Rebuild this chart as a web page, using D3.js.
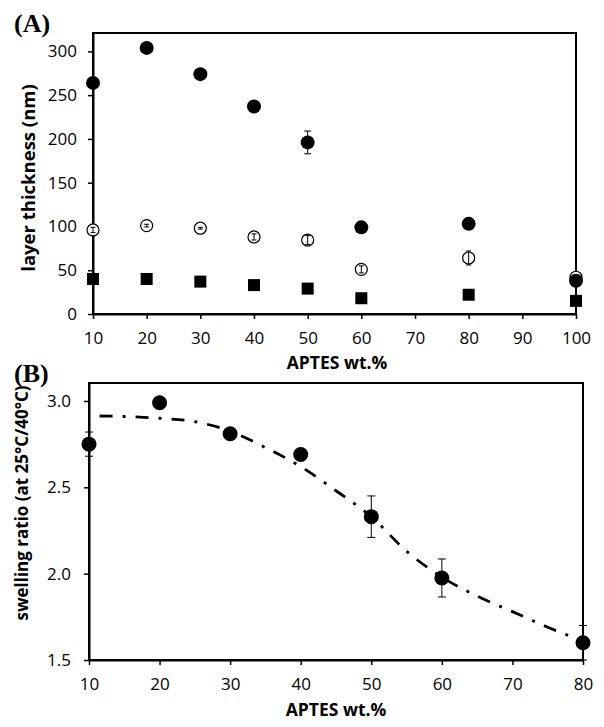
<!DOCTYPE html>
<html><head><meta charset="utf-8">
<script src="https://cdn.jsdelivr.net/npm/d3@7"></script>
<style>body{margin:0;background:#fff}svg{display:block}</style>
</head><body>
<script>
// Panel A data
const xA = [10, 20, 30, 40, 50, 60, 80, 100];
const filledA = [264, 304, 274, 237, 196, 99, 103, 38];
const filledAErr = [0, 0, 0, 0, 13, 0, 0, 0];
const openA = [96, 101, 98, 88, 84.5, 51, 64, 42];
const openAErr = [3, 1.5, 1, 3.5, 5, 4, 8, 2];
const squareA = [40, 40, 37, 33, 29, 18, 22, 15];
const xTicksA = [10, 20, 30, 40, 50, 60, 70, 80, 90, 100];
const yTicksA = [0, 50, 100, 150, 200, 250, 300];
// Panel B data
const xB = [10, 20, 30, 40, 50, 60, 80];
const swell = [2.75, 2.99, 2.81, 2.69, 2.33, 1.975, 1.60];
const swellErr = [0.07, 0, 0, 0, 0.12, 0.11, 0.1];
const fitX = [11.5, 15, 20, 25, 30, 35, 40, 45, 50, 55, 60, 65, 70, 75, 80];
const fitY = [2.913, 2.91, 2.90, 2.88, 2.825, 2.73, 2.62, 2.48, 2.33, 2.13, 1.98, 1.87, 1.78, 1.69, 1.61];
const xTicksB = [10, 20, 30, 40, 50, 60, 70, 80];
const yTicksB = [1.5, 2.0, 2.5, 3.0];

const W = 604, H = 727;
const svg = d3.select("body").append("svg").attr("width", W).attr("height", H);
const tickFont = "'Open Sans', sans-serif";

function frame(g, x, y, xt, yt, yfmt, xpad, ypad) {
  const [x0, x1] = x.range(), [y0, y1] = y.range();
  g.append("rect").attr("x", x0).attr("y", y1).attr("width", x1 - x0).attr("height", y0 - y1)
    .attr("fill", "none").attr("stroke", "#000").attr("stroke-width", 2);
  const ax = g.append("g").attr("transform", `translate(0,${y0})`)
    .call(d3.axisBottom(x).tickValues(xt).tickSize(5).tickSizeOuter(0).tickPadding(xpad));
  const ay = g.append("g").attr("transform", `translate(${x0},0)`)
    .call(d3.axisLeft(y).tickValues(yt).tickSize(5).tickSizeOuter(0).tickPadding(ypad).tickFormat(yfmt));
  [ax, ay].forEach(a => {
    a.select(".domain").attr("stroke-width", 2);
    a.selectAll(".tick line").attr("stroke-width", 1.5);
    a.selectAll("text").attr("font-family", tickFont).attr("font-size", 17).attr("fill", "#000");
  });
}

function errBars(g, xs, ys, es, x, y, cap) {
  xs.forEach((d, i) => {
    if (!es[i]) return;
    const cx = x(d), t = y(ys[i] + es[i]), b = y(ys[i] - es[i]);
    g.append("line").attr("x1", cx).attr("x2", cx).attr("y1", t).attr("y2", b).attr("stroke", "#000").attr("stroke-width", 1);
    [t, b].forEach(v => g.append("line").attr("x1", cx - cap).attr("x2", cx + cap).attr("y1", v).attr("y2", v).attr("stroke", "#000").attr("stroke-width", 1));
  });
}

// ---------- Panel A ----------
const xa = d3.scaleLinear().domain([10, 100]).range([93, 576]);
const ya = d3.scaleLinear().domain([0, 321]).range([314, 33]);
const gA = svg.append("g");
frame(gA, xa, ya, xTicksA, yTicksA, d3.format("d"), 13, 11);

gA.selectAll(".sq").data(xA).join("rect")
  .attr("x", d => xa(d) - 6).attr("y", (d, i) => ya(squareA[i]) - 6)
  .attr("width", 12).attr("height", 12).attr("fill", "#000");
gA.selectAll(".oc").data(xA).join("circle")
  .attr("cx", d => xa(d)).attr("cy", (d, i) => ya(openA[i])).attr("r", 6)
  .attr("fill", "#fff").attr("stroke", "#000").attr("stroke-width", 1.2);
errBars(gA, xA, openA, openAErr, xa, ya, 2.5);
gA.selectAll(".fc").data(xA).join("circle")
  .attr("cx", d => xa(d)).attr("cy", (d, i) => ya(filledA[i])).attr("r", 7).attr("fill", "#000");
errBars(gA, xA, filledA, filledAErr, xa, ya, 3.5);

svg.append("text").attr("x", 14).attr("y", 32).text("(A)")
  .attr("font-family", "'Liberation Serif', serif").attr("font-weight", "bold").attr("font-size", 26);
svg.append("text").attr("x", 337).attr("y", 369).attr("text-anchor", "middle").text("APTES wt.%")
  .attr("font-family", tickFont).attr("font-weight", "bold").attr("font-size", 17.5);
svg.append("text").attr("transform", `translate(35,178) rotate(-90)`).attr("text-anchor", "middle")
  .text("layer thickness (nm)").attr("font-family", tickFont).attr("font-weight", "bold").attr("font-size", 18.5);

// ---------- Panel B ----------
const xb = d3.scaleLinear().domain([10, 80]).range([89, 583]);
const yb = d3.scaleLinear().domain([1.5, 3.104]).range([660, 383]);
const gB = svg.append("g");
frame(gB, xb, yb, xTicksB, yTicksB, d3.format(".1f"), 13, 13);

const line = d3.line().x(d => xb(d[0])).y(d => yb(d[1])).curve(d3.curveMonotoneX);
gB.append("path").datum(fitX.map((d, i) => [d, fitY[i]])).attr("d", line)
  .attr("fill", "none").attr("stroke", "#000").attr("stroke-width", 2.8)
  .attr("stroke-dasharray", "13,10,3,10");
errBars(gB, xB, swell, swellErr, xb, yb, 4);
gB.selectAll(".sc").data(xB).join("circle")
  .attr("cx", d => xb(d)).attr("cy", (d, i) => yb(swell[i])).attr("r", 7.5).attr("fill", "#000");

svg.append("text").attr("x", 14).attr("y", 382).text("(B)")
  .attr("font-family", "'Liberation Serif', serif").attr("font-weight", "bold").attr("font-size", 26);
svg.append("text").attr("x", 336).attr("y", 716).attr("text-anchor", "middle").text("APTES wt.%")
  .attr("font-family", tickFont).attr("font-weight", "bold").attr("font-size", 17.5);
svg.append("text").attr("transform", `translate(28,503) rotate(-90)`).attr("text-anchor", "middle")
  .text("swelling ratio (at 25°C/40°C)").attr("font-family", tickFont).attr("font-weight", "bold").attr("font-size", 17);
</script>
</body></html>
